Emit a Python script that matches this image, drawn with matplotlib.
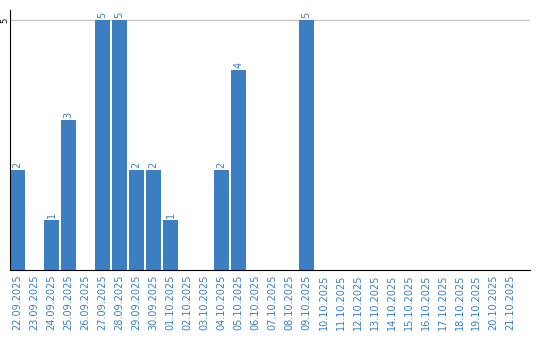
import matplotlib
matplotlib.use("Agg")
import matplotlib.pyplot as plt

dates = ["22.09.2025", "23.09.2025", "24.09.2025", "25.09.2025", "26.09.2025",
         "27.09.2025", "28.09.2025", "29.09.2025", "30.09.2025", "01.10.2025",
         "02.10.2025", "03.10.2025", "04.10.2025", "05.10.2025", "06.10.2025",
         "07.10.2025", "08.10.2025", "09.10.2025", "10.10.2025", "11.10.2025",
         "12.10.2025", "13.10.2025", "14.10.2025", "15.10.2025", "16.10.2025",
         "17.10.2025", "18.10.2025", "19.10.2025", "20.10.2025", "21.10.2025"]
counts = [2, 0, 1, 3, 0, 5, 5, 2, 2, 1, 0, 0, 2, 4, 0, 0, 0, 5,
          0, 0, 0, 0, 0, 0, 0, 0, 0, 0, 0, 0]

blue = "#3b7ec2"

fig = plt.figure(figsize=(5.4, 3.4), dpi=100)
ax = fig.add_axes([10 / 540, 70 / 340, 520 / 540, 260 / 340])

x = range(len(dates))
ax.bar(x, counts, width=0.88, color=blue, zorder=2)

# value labels above non-zero bars
for i, v in zip(x, counts):
    if v > 0:
        ax.text(i, v + 0.04, str(v), rotation=90, ha="center", va="bottom",
                color=blue, fontsize=7)

ax.set_xlim(-0.44, 30.15)
ax.set_ylim(0, 5.2)
ax.set_yticks([5])
ax.set_yticklabels(["5"], rotation=90, va="center", fontsize=6)
ax.yaxis.grid(True, color="#c8c8c8", linewidth=1, zorder=0)
ax.set_xticks(list(x))
ax.set_xticklabels(dates, rotation=90, fontsize=7, color=blue)
ax.tick_params(axis="x", length=0, pad=3)
ax.tick_params(axis="y", length=0, pad=0.5)

for side in ["top", "right"]:
    ax.spines[side].set_visible(False)
ax.spines["left"].set_color("black")
ax.spines["bottom"].set_color("black")

fig.savefig("out.png", dpi=100)
